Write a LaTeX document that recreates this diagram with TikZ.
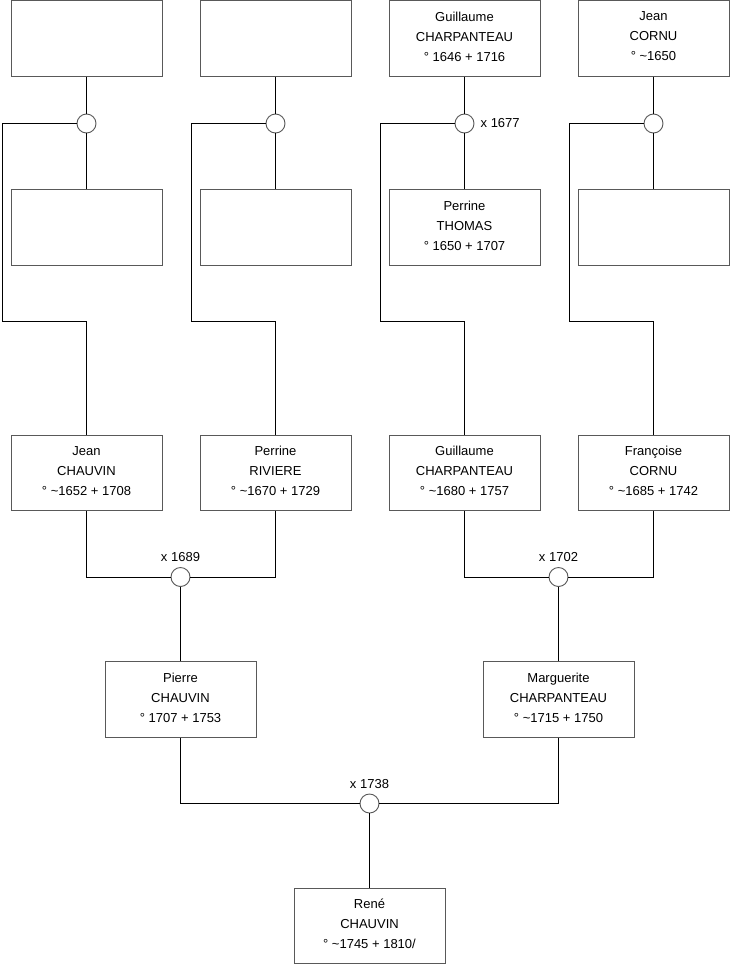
\documentclass[tikz,border=0pt]{standalone}
\usepackage{fontspec}
\setmainfont{Liberation Sans}
\begin{document}
\begin{tikzpicture}[x=1pt,y=-1pt,
  person/.style={draw=black!65, fill=white, line width=0.9pt, minimum width=151pt, minimum height=75.5pt, inner sep=0pt,
    align=center, font=\fontsize{13}{20}\selectfont},
  wed/.style={circle, draw=black!65, fill=white, line width=0.9pt, minimum size=19pt, inner sep=0pt},
  wedlab/.style={font=\fontsize{13}{16}\selectfont, inner sep=0pt},
  conn/.style={draw=black, line width=0.9pt}]
\useasboundingbox[fill=white] (0,0) rectangle (740,975);
\newcommand{\dep}{\rule[-4pt]{0pt}{4pt}}
% row 1
\node[person] (p1) at (86.5,38.5) {};
\node[person] (p2) at (275.5,38.5) {};
\node[person] (p3) at (464.5,38.5) {Guillaume\\CHARPANTEAU\\° 1646 + 1716\dep};
\node[person] (p4) at (653.5,38.5) {Jean\\CORNU\\° \textasciitilde1650\dep};
% row 2
\node[person] (q1) at (86.5,227.5) {};
\node[person] (q2) at (275.5,227.5) {};
\node[person] (q3) at (464.5,227.5) {Perrine\\THOMAS\\° 1650 + 1707\dep};
\node[person] (q4) at (653.5,227.5) {};
% row 3
\node[person] (r1) at (86.5,473) {Jean\\CHAUVIN\\° \textasciitilde1652 + 1708\dep};
\node[person] (r2) at (275.5,473) {Perrine\\RIVIERE\\° \textasciitilde1670 + 1729\dep};
\node[person] (r3) at (464.5,473) {Guillaume\\CHARPANTEAU\\° \textasciitilde1680 + 1757\dep};
\node[person] (r4) at (653.5,473) {Françoise\\CORNU\\° \textasciitilde1685 + 1742\dep};
% row 4
\node[person] (s1) at (180.5,699.5) {Pierre\\CHAUVIN\\° 1707 + 1753\dep};
\node[person] (s2) at (558.5,699.5) {Marguerite\\CHARPANTEAU\\° \textasciitilde1715 + 1750\dep};
% row 5
\node[person] (t1) at (369.5,926) {René\\CHAUVIN\\° \textasciitilde1745 + 1810/\dep};
% marriage circles
\node[wed] (c1) at (86.5,123.5) {};
\node[wed] (c2) at (275.5,123.5) {};
\node[wed] (c3) at (464.5,123.5) {};
\node[wed] (c4) at (653.5,123.5) {};
\node[wed] (d1) at (180.5,577) {};
\node[wed] (d2) at (558.5,577) {};
\node[wed] (e1) at (369.5,803.5) {};
% labels
\node[wedlab, anchor=west] (l3) at ([xshift=6pt,yshift=0.5pt]c3.east) {x 1677};
\node[wedlab, anchor=south] (ld1) at ([yshift=5pt]d1.north) {x 1689};
\node[wedlab, anchor=south] (ld2) at ([yshift=5pt]d2.north) {x 1702};
\node[wedlab, anchor=south] (le1) at ([yshift=5pt]e1.north) {x 1738};
% corner coordinates
\coordinate (k1) at (2,321.5);
\coordinate (k2) at (191,321.5);
\coordinate (k3) at (380,321.5);
\coordinate (k4) at (569,321.5);
% connectors
\foreach \i in {1,2,3,4}{
  \draw[conn] (p\i.south) -- (c\i.north);
  \draw[conn] (c\i.south) -- (q\i.north);
  \draw[conn] (c\i.west) -| (k\i) -| (r\i.north);
}
\draw[conn] (r1.south) |- (d1.west);
\draw[conn] (r2.south) |- (d1.east);
\draw[conn] (r3.south) |- (d2.west);
\draw[conn] (r4.south) |- (d2.east);
\draw[conn] (d1.south) -- (s1.north);
\draw[conn] (d2.south) -- (s2.north);
\draw[conn] (s1.south) |- (e1.west);
\draw[conn] (s2.south) |- (e1.east);
\draw[conn] (e1.south) -- (t1.north);
\end{tikzpicture}
\end{document}
